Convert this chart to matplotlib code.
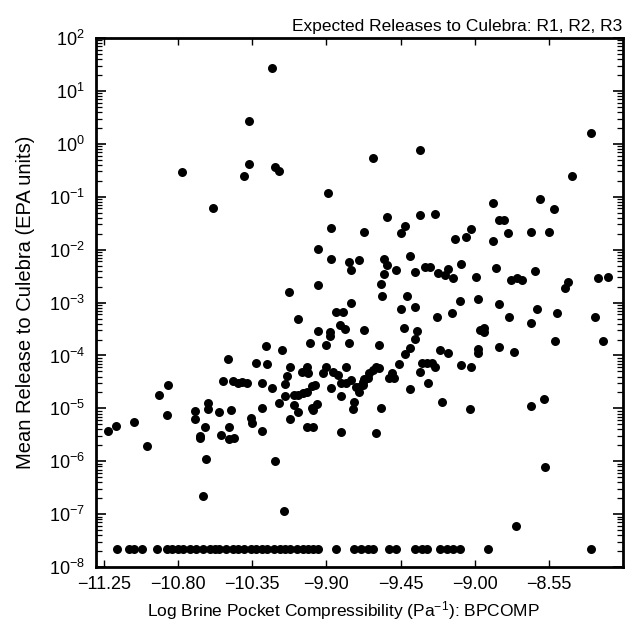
import numpy as np
import matplotlib
matplotlib.use("Agg")
import matplotlib.pyplot as plt
from matplotlib.ticker import FixedLocator, FuncFormatter, LogLocator

plt.rcParams['font.family'] = ['Liberation Sans', 'DejaVu Sans']
plt.rcParams['mathtext.fontset'] = 'custom'
plt.rcParams['mathtext.rm'] = 'Liberation Sans'
plt.rcParams['mathtext.it'] = 'Liberation Sans:italic'

# log10 of brine pocket compressibility (x) and log10 of mean release (y)
bpcomp = [
    -10.23, -10.37, -10.37, -10.40, -10.78, -10.21, -10.19, -10.59, -9.89, -9.62,
    -9.33, -8.29, -8.41, -8.89, -8.60, -8.52, -9.53, -9.33, -9.24, -8.85,
    -8.82, -9.42, -9.87, -9.67, -9.45, -9.02, -8.80, -8.66, -8.55,
    -9.12, -9.05, -8.89, -9.95, -9.87, -9.76, -9.70, -9.75, -9.55, -9.53,
    -9.55, -9.48, -9.39, -9.36, -9.30, -9.27, -9.22, -9.18, -9.16, -9.13,
    -9.08, -8.99, -8.87, -8.78, -8.74, -8.71, -8.63, -8.45, -8.43, -8.25, -8.19,
    -9.95, -10.13, -9.57, -9.56, -9.41, -9.75, -9.84, -9.80, -10.07, -9.45,
    -9.36, -9.23, -9.14, -9.09, -8.98, -8.85, -8.79, -8.62, -8.50, -8.27,
    -9.82, -9.79, -9.95, -9.88, -9.88, -9.67, -9.43, -9.35, -9.36, -8.66,
    -8.97, -8.94, -8.94, -8.51, -8.22,
    -10.17, -10.27, -10.00, -9.90, -9.76, -9.58, -9.39, -9.42, -9.21, -9.16,
    -8.98, -8.98, -8.85, -8.76,
    -10.50, -10.33, -10.26, -9.08, -9.02, -9.60, -9.62, -9.64, -9.67, -9.68,
    -9.70, -9.46, -9.32, -9.26, -9.24, -9.33, -9.28, -9.39, -9.58, -9.52,
    -9.50, -9.49, -9.29,
    -10.53, -10.47, -10.44, -10.41, -10.38, -10.29, -10.23, -10.86, -10.92,
    -10.12, -10.14, -10.05, -10.02, -10.01, -9.92, -9.90, -9.86, -9.83, -9.78,
    -10.15, -10.15, -10.10, -10.07, -10.04, -10.02, -9.99, -9.97,
    -9.87, -9.81, -9.81, -9.78, -9.75, -9.72, -9.70, -9.68, -9.65,
    -9.73, -9.74, -9.57, -9.20, -9.03, -8.66, -8.58,
    -10.19, -10.10, -10.07, -9.99, -9.96, -9.98, -10.29, -10.12, -10.02, -9.98,
    -10.62, -10.62, -10.70, -10.70, -10.55, -10.48, -10.87, -11.07, -11.18, -11.23,
    -10.64, -10.49, -10.36, -10.35, -10.29, -10.67, -10.67, -10.54, -10.49, -10.46,
    -10.99,
    -9.81, -9.60, -10.63, -10.21, -8.57,
    -10.65, -10.16, -8.75,
]

log_release = [
    1.43, 0.43, -0.38, -0.61, -0.53, -0.44, -0.51, -1.21, -0.93, -0.27,
    -0.12, 0.20, -0.61, -1.12, -1.04, -1.23, -1.38, -1.35, -1.33, -1.44,
    -1.44, -1.55, -1.59, -1.67, -1.69, -1.61, -1.69, -1.67, -1.67,
    -1.80, -1.76, -1.84, -1.99, -2.18, -2.23, -2.20, -2.39, -2.18, -2.29,
    -2.46, -2.39, -2.12, -2.42, -2.33, -2.33, -2.44, -2.48, -2.37, -2.54,
    -2.27, -2.52, -2.35, -2.57, -2.54, -2.57, -2.40, -2.73, -2.61, -2.54, -2.52,
    -2.67, -2.80, -2.65, -2.88, -2.88, -3.01, -3.18, -3.18, -3.31, -3.12,
    -3.09, -3.27, -3.20, -2.97, -2.93, -3.03, -3.27, -3.12, -3.20, -3.27,
    -3.43, -3.50, -3.54, -3.56, -3.63, -3.52, -3.48, -3.54, -3.69, -3.39,
    -3.52, -3.48, -3.56, -3.73, -3.73,
    -3.90, -3.82, -3.77, -3.80, -3.77, -3.80, -3.86, -3.97, -3.90, -3.95,
    -3.88, -3.95, -3.84, -3.94,
    -4.07, -4.14, -4.16, -4.18, -4.22, -4.22, -4.28, -4.33, -4.45, -4.56,
    -4.69, -4.16, -4.14, -4.14, -4.22, -4.31, -4.52, -4.64, -4.24, -4.43,
    -4.33, -4.43, -4.14,
    -4.48, -4.48, -4.52, -4.50, -4.52, -4.52, -4.62, -4.56, -4.75,
    -4.22, -4.39, -4.31, -4.22, -4.33, -4.33, -4.22, -4.31, -4.37, -4.22,
    -4.54, -4.77, -4.75, -4.75, -4.71, -4.69, -4.58, -4.56,
    -4.62, -4.77, -4.52, -4.52, -4.47, -4.60, -4.60, -4.50, -4.43,
    -4.88, -5.01, -4.99, -4.88, -5.01, -4.96, -4.82,
    -4.90, -4.94, -5.07, -4.99, -4.92, -5.03, -4.99, -5.20, -5.35, -5.35,
    -4.90, -5.01, -5.05, -5.20, -5.07, -5.03, -5.13, -5.26, -5.33, -5.43,
    -5.35, -5.35, -5.18, -5.28, -5.43, -5.52, -5.56, -5.50, -5.58, -5.56,
    -5.71,
    -5.45, -5.47, -5.96, -6.00, -6.11,
    -6.66, -6.94, -7.23,
]

# vectors whose release falls below the plotting floor
bpcomp_floor = [
    -11.17, -11.10, -11.07, -11.02, -10.93, -10.87, -10.84, -10.80, -10.77, -10.73,
    -10.69, -10.65, -10.61, -10.58, -10.55, -10.51, -10.47, -10.44, -10.40, -10.36,
    -10.33, -10.29, -10.26, -10.22, -10.18, -10.15, -10.12, -10.08, -10.04, -10.01,
    -9.98, -9.95, -9.84, -9.73, -9.69, -9.65, -9.62, -9.52, -9.48, -9.36,
    -9.32, -9.29, -9.21, -9.17, -9.13, -9.09, -8.92, -8.29,
]
floor_release = 2.2e-8

x_ticks = [-11.25, -10.80, -10.35, -9.90, -9.45, -9.00, -8.55]

release = 10.0 ** np.array(log_release)

fig = plt.figure(figsize=(6.4, 6.33), dpi=100)
ax = fig.add_axes([0.150, 0.104, 0.823, 0.836])

ax.scatter(bpcomp, release, s=42, c='black', marker='o', linewidths=0)
ax.scatter(bpcomp_floor, np.full(len(bpcomp_floor), floor_release),
           s=42, c='black', marker='o', linewidths=0)

ax.set_yscale('log')
ax.set_xlim(-11.3, -8.1)
ax.set_ylim(1e-8, 1e2)

ax.xaxis.set_major_locator(FixedLocator(x_ticks))
ax.xaxis.set_major_formatter(FuncFormatter(lambda v, pos: f"{v:.2f}".replace("-", "\u2212")))
ax.yaxis.set_major_locator(LogLocator(base=10, numticks=12))
ax.yaxis.set_minor_locator(LogLocator(base=10, subs=np.arange(2, 10), numticks=12))

ax.tick_params(axis='both', which='both', direction='in', top=True, right=True)
ax.tick_params(axis='x', which='major', length=5, width=1, labelsize=13, pad=6)
ax.tick_params(axis='y', which='major', length=7, width=1.2, labelsize=13, pad=8)
ax.tick_params(axis='y', which='minor', length=4, width=0.9)

for sp in ax.spines.values():
    sp.set_linewidth(2.0)

ax.set_xlabel('Log Brine Pocket Compressibility (Pa$^{-1}$): BPCOMP',
              fontsize=12.5, labelpad=5, x=0.47)
ax.set_ylabel('Mean Release to Culebra (EPA units)', fontsize=14.5, labelpad=10)
ax.set_title('Expected Releases to Culebra: R1, R2, R3', loc='right', fontsize=12.5, pad=5)

fig.savefig('out.png', dpi=100)
